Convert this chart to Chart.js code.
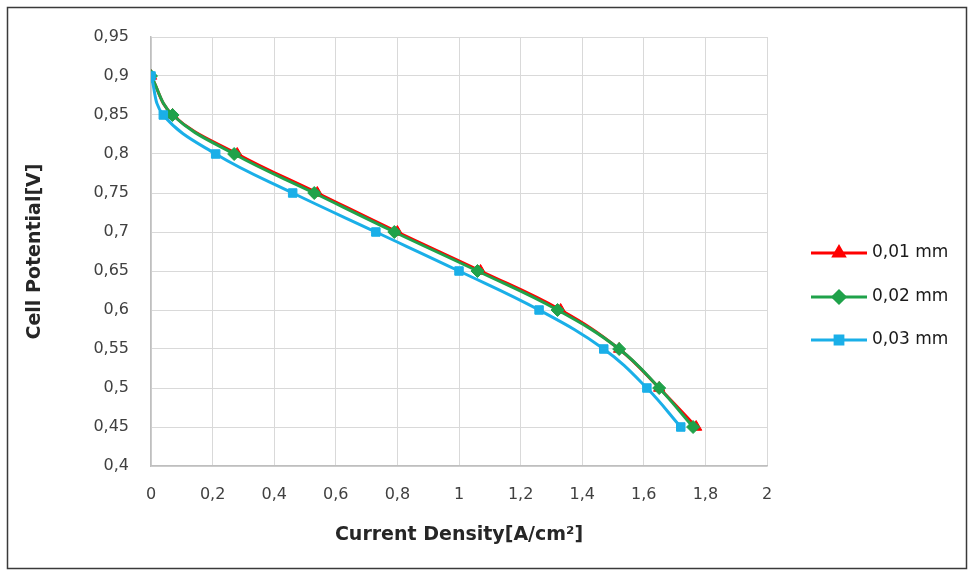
<!DOCTYPE html>
<html>
<head>
<meta charset="utf-8">
<script src="https://cdn.jsdelivr.net/npm/chart.js@4.4.1/dist/chart.umd.min.js"></script>
<style>
  html, body { margin:0; padding:0; background:#fff; }
  #wrap { width:974px; height:577px; position:relative; }
</style>
</head>
<body>
<div id="wrap"><canvas id="c" width="974" height="577"></canvas></div>
<script>
// valores
const potential = [0.9, 0.85, 0.8, 0.75, 0.7, 0.65, 0.6, 0.55, 0.5, 0.45];
const current001 = [0, 0.07, 0.28, 0.54, 0.80, 1.07, 1.33, 1.52, 1.65, 1.77];
const current002 = [0, 0.07, 0.27, 0.53, 0.79, 1.06, 1.32, 1.52, 1.65, 1.76];
const current003 = [0, 0.04, 0.21, 0.46, 0.73, 1.00, 1.26, 1.47, 1.61, 1.72];
const seriesNames = ['0,01 mm', '0,02 mm', '0,03 mm'];
const xTicks = [0, 0.2, 0.4, 0.6, 0.8, 1, 1.2, 1.4, 1.6, 1.8, 2];
const yTicks = [0.4, 0.45, 0.5, 0.55, 0.6, 0.65, 0.7, 0.75, 0.8, 0.85, 0.9, 0.95];

const RED = '#FF0000', GREEN = '#1FA24A', BLUE = '#1AAFE8';
const FONT = 'DejaVu Sans';

function pts(xs){ return xs.map((x,i)=>({x:x, y:potential[i]})); }
function fmt(v){ return String(+v.toFixed(2)).replace('.', ','); }

const series = [
  { label: seriesNames[0], data: pts(current001), color: RED,   style: 'triangle', r: 6.5, order: 2 },
  { label: seriesNames[1], data: pts(current002), color: GREEN, style: 'rectRot',  r: 6.5, order: 1 },
  { label: seriesNames[2], data: pts(current003), color: BLUE,  style: 'rect',     r: 6,   order: 0 }
];

const legendAndFrame = {
  id: 'legendAndFrame',
  afterDraw(chart){
    const ctx = chart.ctx;
    ctx.save();
    // marco exterior
    ctx.strokeStyle = '#3a3a3a';
    ctx.lineWidth = 1.5;
    ctx.strokeRect(7.5, 7.5, 959, 561);
    // leyenda
    const rows = [253, 297, 340];
    series.forEach((s, i) => {
      const y = rows[i];
      ctx.strokeStyle = s.color;
      ctx.lineWidth = 3;
      ctx.beginPath(); ctx.moveTo(811, y); ctx.lineTo(867, y); ctx.stroke();
      ctx.fillStyle = s.color;
      Chart.helpers.drawPoint(ctx, { pointStyle: s.style, radius: s.r - 0.5, rotation: 0, borderWidth: 1 }, 839, y);
      ctx.fill();
      ctx.fillStyle = '#1a1a1a';
      ctx.font = '17px "' + FONT + '"';
      ctx.textBaseline = 'middle';
      ctx.textAlign = 'left';
      ctx.fillText(s.label, 872, y);
    });
    ctx.restore();
  }
};

new Chart(document.getElementById('c'), {
  type: 'line',
  data: {
    datasets: series.map(s => ({
      label: s.label,
      data: s.data,
      borderColor: s.color,
      backgroundColor: s.color,
      borderWidth: 3,
      pointStyle: s.style,
      pointRadius: s.r,
      pointBorderWidth: 1,
      pointBorderColor: s.color,
      pointBackgroundColor: s.color,
      tension: 0.4,
      fill: false,
      order: s.order
    }))
  },
  options: {
    responsive: false,
    animation: false,
    layout: { padding: { left: 20, right: 207, top: 37, bottom: 27 } },
    plugins: { legend: { display: false }, tooltip: { enabled: false } },
    scales: {
      x: {
        type: 'linear', min: 0, max: 2,
        afterBuildTicks: s => { s.ticks = xTicks.map(v => ({ value: v })); },
        afterFit: s => { s.height = 84; },
        grid: { color: '#d9d9d9', lineWidth: 1, drawTicks: false },
        border: { color: '#bfbfbf', width: 1.5 },
        ticks: { color: '#404040', font: { family: FONT, size: 16 }, padding: 19, maxRotation: 0, callback: v => fmt(v) },
        title: { display: true, text: 'Current Density[A/cm²]', color: '#262626', font: { family: FONT, size: 19, weight: 'bold' }, padding: { top: 10 } }
      },
      y: {
        type: 'linear', min: 0.4, max: 0.95,
        afterBuildTicks: s => { s.ticks = yTicks.map(v => ({ value: v })); },
        afterFit: s => { s.width = 131; },
        grid: { color: '#d9d9d9', lineWidth: 1, drawTicks: false },
        border: { color: '#bfbfbf', width: 1.5 },
        ticks: { color: '#404040', font: { family: FONT, size: 16 }, padding: 22, callback: v => fmt(v) },
        title: { display: true, text: 'Cell Potential[V]', color: '#262626', font: { family: FONT, size: 19, weight: 'bold' }, padding: { bottom: 2 } }
      }
    }
  },
  plugins: [legendAndFrame]
});
</script>
</body>
</html>
